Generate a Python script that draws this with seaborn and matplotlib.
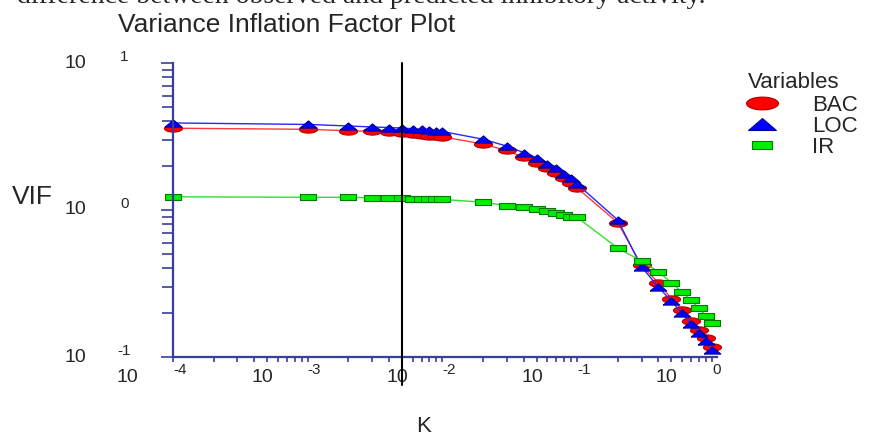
import numpy as np
import pandas as pd
import matplotlib
matplotlib.use("Agg")
import matplotlib.pyplot as plt
from matplotlib.lines import Line2D
from matplotlib.ticker import LogLocator, NullFormatter
import seaborn as sns

# ridge parameter k and VIF of each variable
k_values = [0.0001, 0.001, 0.002, 0.003, 0.004, 0.005, 0.006, 0.007, 0.008, 0.009,
            0.01, 0.02, 0.03, 0.04, 0.05, 0.06, 0.07, 0.08, 0.09,
            0.1, 0.2, 0.3, 0.4, 0.5, 0.6, 0.7, 0.8, 0.9, 1.0]
vif_bac = [3.60, 3.54, 3.46, 3.43, 3.39, 3.32, 3.29, 3.25, 3.21, 3.19,
           3.15, 2.81, 2.54, 2.28, 2.09, 1.93, 1.79, 1.65, 1.53,
           1.41, 0.82, 0.42, 0.32, 0.25, 0.21, 0.176, 0.153, 0.135, 0.117]
vif_loc = [3.91, 3.82, 3.73, 3.67, 3.64, 3.61, 3.57, 3.53, 3.50, 3.46,
           3.42, 3.03, 2.72, 2.46, 2.26, 2.07, 1.92, 1.77, 1.64,
           1.50, 0.855, 0.41, 0.30, 0.24, 0.199, 0.168, 0.146, 0.128, 0.112]
vif_ir = [1.23, 1.22, 1.22, 1.21, 1.20, 1.20, 1.19, 1.19, 1.19, 1.18,
          1.18, 1.13, 1.07, 1.05, 1.02, 0.99, 0.95, 0.925, 0.90,
          0.89, 0.55, 0.45, 0.38, 0.32, 0.277, 0.244, 0.214, 0.191, 0.170]
variables = ["BAC", "LOC", "IR"]
chosen_k = 0.005
x_exponents = [-4, -3, -2, -1, 0]
y_exponents = [-1, 0, 1]

df = pd.DataFrame({
    "K": k_values * 3,
    "VIF": vif_bac + vif_loc + vif_ir,
    "Variable": np.repeat(variables, len(k_values)),
})

sns.set_style("white")
plt.rcParams["font.family"] = ["Liberation Sans", "DejaVu Sans"]

# marker shapes (flattened like the original)
t = np.linspace(0, 2 * np.pi, 48)
ellipse = np.column_stack([np.cos(t), 0.4 * np.sin(t)])
triangle = np.array([[-1, -0.43], [1, -0.43], [0, 0.43], [-1, -0.43]])
rect = np.array([[-1, -0.4], [1, -0.4], [1, 0.4], [-1, 0.4], [-1, -0.4]])

styles = {
    "BAC": dict(line="#ff3a3a", face="#ff0000", edge="#b00000", marker=ellipse, ms=13, lms=23),
    "LOC": dict(line="#2828ff", face="#0000ff", edge="#0000a0", marker=triangle, ms=12, lms=20),
    "IR": dict(line="#30e030", face="#00ee00", edge="#007a00", marker=rect, ms=11, lms=15),
}
axis_color = "#3c3c9c"

fig = plt.figure(figsize=(8.69, 4.37), dpi=100)
ax = fig.add_axes([173 / 869, 1 - 357 / 437, (717 - 173) / 869, (357 - 63) / 437])
ax.set_xscale("log")
ax.set_yscale("log")

for v in variables:
    s = styles[v]
    sns.lineplot(data=df[df["Variable"] == v], x="K", y="VIF", ax=ax,
                 color=s["line"], linewidth=1.0, marker=s["marker"], markersize=s["ms"],
                 markerfacecolor=s["face"], markeredgecolor=s["edge"], markeredgewidth=0.8,
                 clip_on=False, legend=False)

ax.axvline(chosen_k, ymin=-0.095, ymax=1.0, color="black", lw=1.5, clip_on=False, zorder=10)

ax.set_xlim(1e-4, 1.09)
ax.set_ylim(0.1, 10)
sns.despine(ax=ax)
for side in ["left", "bottom"]:
    ax.spines[side].set_color(axis_color)
    ax.spines[side].set_linewidth(1.6)

for axis in [ax.xaxis, ax.yaxis]:
    axis.set_major_locator(LogLocator(base=10, numticks=10))
    axis.set_minor_locator(LogLocator(base=10, subs=np.arange(2, 10), numticks=20))
    axis.set_major_formatter(NullFormatter())
    axis.set_minor_formatter(NullFormatter())
ax.tick_params(axis="both", which="both", direction="out", color=axis_color, width=1.2,
               bottom=True, left=True, top=False, right=False)
ax.tick_params(axis="x", which="both", length=3.8)
ax.tick_params(axis="y", which="major", length=8.5)
ax.tick_params(axis="y", which="minor", length=8)
ax.set_xlabel("")
ax.set_ylabel("")

# tick labels drawn the way the original export does: "10" and exponent apart
for e in x_exponents:
    ax.annotate(str(e), xy=(10.0 ** e, 0), xycoords=("data", "axes fraction"),
                xytext=(0, -9.5), textcoords="offset points", ha="left", va="center",
                fontsize=11, annotation_clip=False)
    ax.annotate("10", xy=(10.0 ** e, 0), xycoords=("data", "axes fraction"),
                xytext=(-32.5, -14.5), textcoords="offset points", ha="center", va="center",
                fontsize=14, annotation_clip=False)
for e in y_exponents:
    ax.annotate("10", xy=(0, 10.0 ** e), xycoords=("axes fraction", "data"),
                xytext=(-70.5, 0), textcoords="offset points", ha="center", va="center",
                fontsize=14, annotation_clip=False)
    ax.annotate(str(e), xy=(0, 10.0 ** e), xycoords=("axes fraction", "data"),
                xytext=(-35, 4.5), textcoords="offset points", ha="center", va="center",
                fontsize=11, annotation_clip=False)

fig.text(287 / 869, 1 - 25 / 437, "Variance Inflation Factor Plot",
         ha="center", va="center", fontsize=19)
fig.text(32 / 869, 1 - 197 / 437, "VIF", ha="center", va="center", fontsize=19)
fig.text(424 / 869, 1 - 426 / 437, "K", ha="center", va="center", fontsize=16)
fig.text(-4 / 869, 1 - 3 / 437,
         "\u2013 difference between observed and predicted inhibitory activity.",
         ha="left", va="baseline", fontsize=20, family=["Liberation Serif", "DejaVu Serif"])

fig.text(748 / 869, 1 - 82 / 437, "Variables", ha="left", va="center", fontsize=16)
handles = [Line2D([], [], linestyle="none", marker=styles[v]["marker"],
                  markersize=styles[v]["lms"], markerfacecolor=styles[v]["face"],
                  markeredgecolor=styles[v]["edge"], markeredgewidth=0.8)
           for v in variables]
fig.legend(handles, variables, loc="upper left",
           bbox_to_anchor=(745 / 869, 1 - 95 / 437), frameon=False, fontsize=16,
           borderpad=0, borderaxespad=0,
           handlelength=1.5, handletextpad=1.5, labelspacing=0.0)

fig.savefig("out.png", dpi=100)
